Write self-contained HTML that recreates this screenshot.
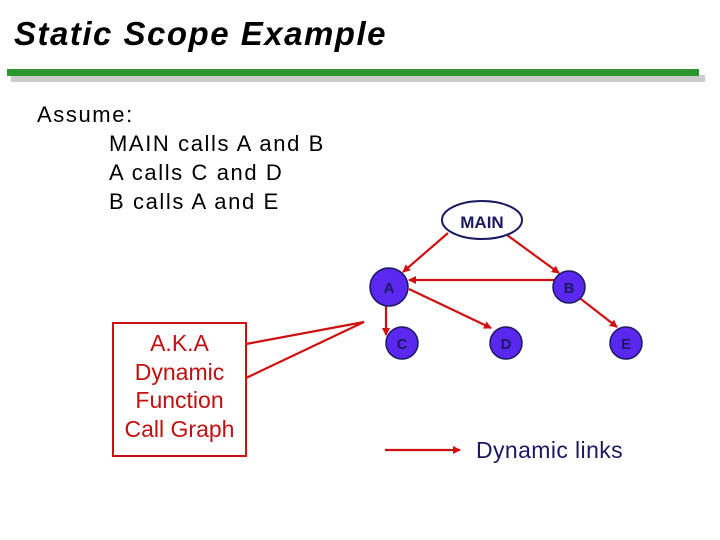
<!DOCTYPE html>
<html><head><meta charset="utf-8"><style>
html,body{margin:0;padding:0;background:#fff;width:720px;height:540px;overflow:hidden;position:relative;font-family:"Liberation Sans",Arial,sans-serif}
.t{position:absolute;white-space:nowrap}
</style></head><body>
<div class="t" style="left:14px;top:15px;font-size:33px;letter-spacing:1.5px;font-style:italic;font-weight:bold;color:#000">Static Scope Example</div>
<div style="position:absolute;left:11px;top:75px;width:694px;height:7px;background:#cccccc"></div>
<div style="position:absolute;left:7px;top:69px;width:692px;height:7px;background:#2e962e"></div>
<div class="t" style="left:37px;top:100px;font-size:22px;letter-spacing:1.6px;line-height:29px;color:#000">Assume:<br><span style="padding-left:72px">MAIN calls A and B</span><br><span style="padding-left:72px">A calls C and D</span><br><span style="padding-left:72px">B calls A and E</span></div>
<svg width="720" height="540" style="position:absolute;left:0;top:0">
<defs><marker id="ar" markerWidth="8" markerHeight="8" refX="7" refY="4" orient="auto" markerUnits="userSpaceOnUse"><path d="M0,0 L8,4 L0,8 z" fill="#d01010"/></marker></defs>
<g stroke="#d01010" stroke-width="2.2" fill="none">
<line x1="448" y1="233" x2="403" y2="272" marker-end="url(#ar)"/>
<line x1="507" y1="235" x2="559" y2="273" marker-end="url(#ar)"/>
<line x1="555" y1="280" x2="409" y2="280" marker-end="url(#ar)"/>
<line x1="386" y1="304" x2="386" y2="335" marker-end="url(#ar)"/>
<line x1="409" y1="289" x2="491" y2="328" marker-end="url(#ar)"/>
<line x1="577" y1="296" x2="617" y2="327" marker-end="url(#ar)"/>
<line x1="385" y1="450" x2="460" y2="450" marker-end="url(#ar)"/>
<path d="M246,344 L364,322 L246,378" />
</g>
<ellipse cx="482" cy="220" rx="40" ry="19" fill="#fff" stroke="#1a1a60" stroke-width="2"/>
<text x="482" y="228" font-size="17" font-weight="bold" fill="#1a1a60" text-anchor="middle" font-family="Liberation Sans,sans-serif">MAIN</text>
<g fill="#5a28ee" stroke="#1a1a60" stroke-width="1.5">
<circle cx="389" cy="287" r="19"/><circle cx="569" cy="287" r="16"/>
<circle cx="402" cy="343" r="16"/><circle cx="506" cy="343" r="16"/><circle cx="626" cy="343" r="16"/>
</g>
<g fill="#1a1a60" font-size="15" font-weight="bold" text-anchor="middle" font-family="Liberation Sans,sans-serif">
<text x="389" y="293">A</text><text x="569" y="293">B</text><text x="402" y="349">C</text><text x="506" y="349">D</text><text x="626" y="349">E</text>
</g>
<rect x="113" y="323" width="133" height="133" fill="#fff" stroke="#d01010" stroke-width="2"/>
</svg>
<div class="t" style="left:113px;top:329px;width:133px;text-align:center;font-size:23px;line-height:28.5px;color:#c01010">A.K.A<br>Dynamic<br>Function<br>Call Graph</div>
<div class="t" style="left:476px;top:437px;font-size:23px;letter-spacing:0.4px;color:#1a1a60">Dynamic links</div>
</body></html>
